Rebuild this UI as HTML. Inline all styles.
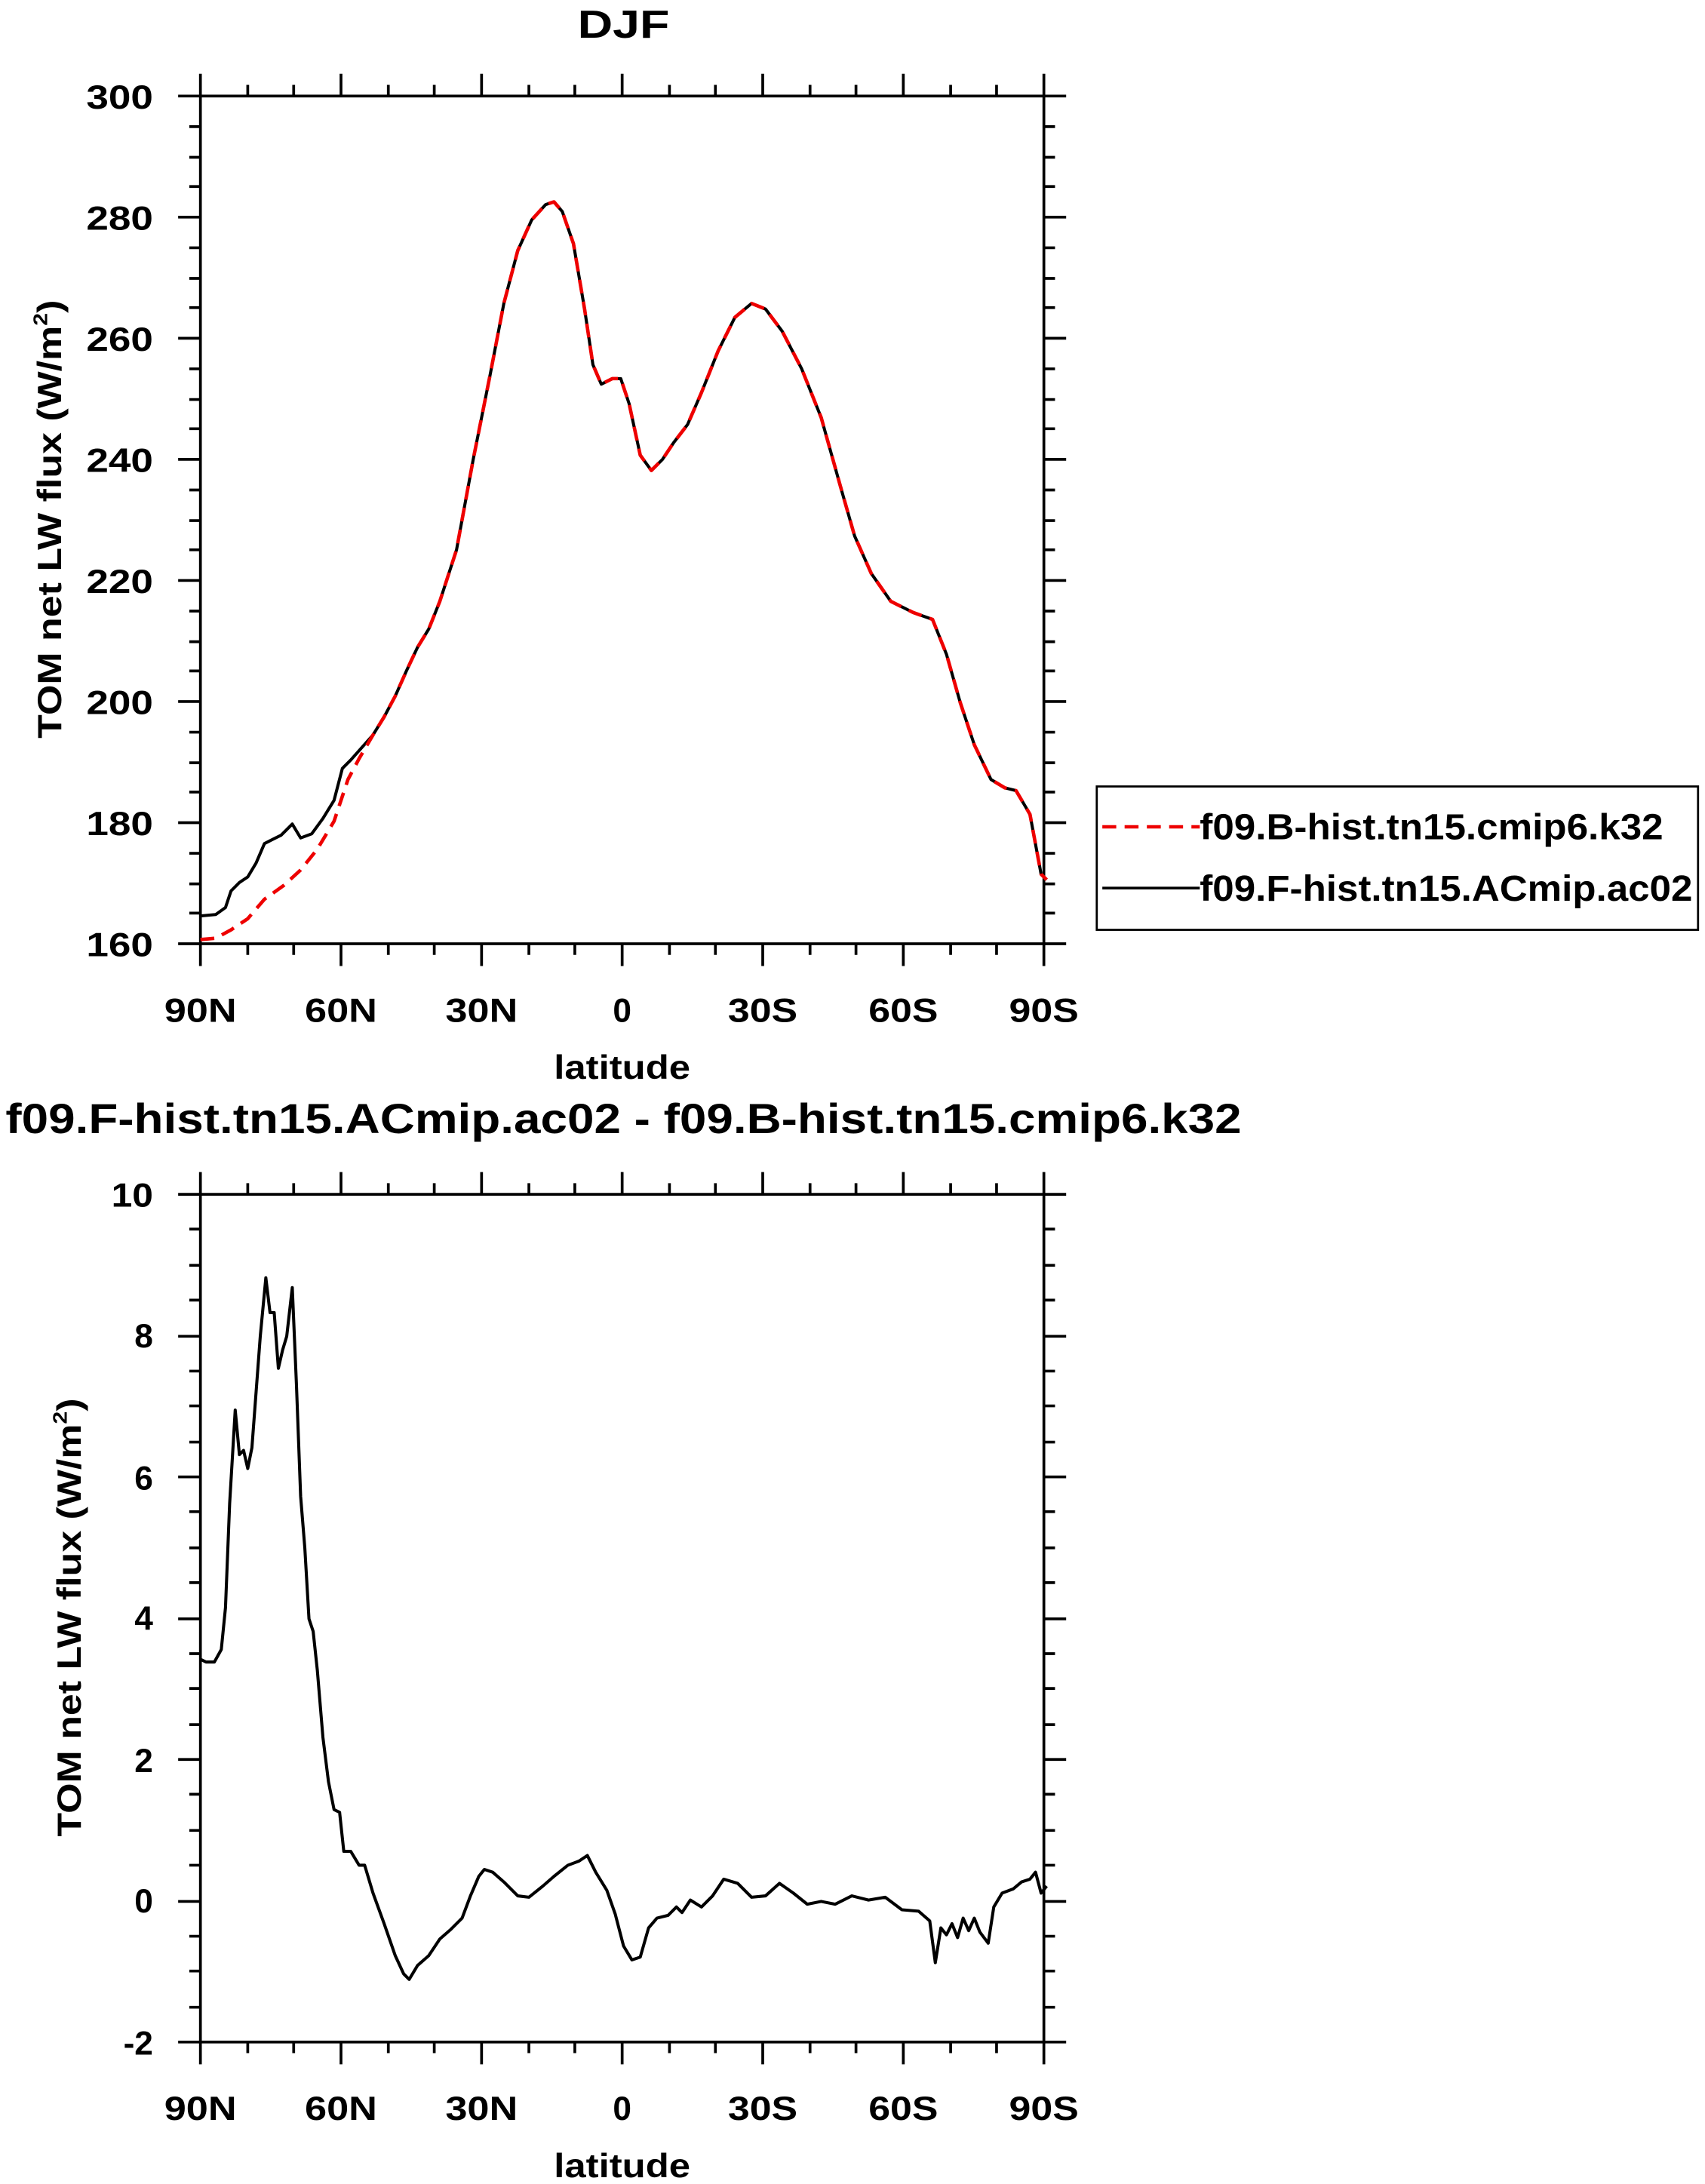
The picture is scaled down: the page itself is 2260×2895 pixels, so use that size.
<!DOCTYPE html>
<html><head><meta charset="utf-8"><style>
html,body{margin:0;padding:0;background:#fff;}
svg{display:block;}
text{font-family:"Liberation Sans",sans-serif;font-weight:bold;fill:#000;}
</style></head><body>
<svg width="2260" height="2895" viewBox="0 0 1225 1569" preserveAspectRatio="none" xmlns="http://www.w3.org/2000/svg">
<rect width="1225" height="1569" fill="#fff"/>
<!-- TOP PLOT -->
<text x="448" y="27" font-size="28" text-anchor="middle" textLength="66" lengthAdjust="spacingAndGlyphs">DJF</text>
<g stroke="#000" stroke-width="2" fill="none">
<rect x="144" y="69" width="606" height="609"/>
<path id="xt" d="M144,678v16M245,678v16M346,678v16M447,678v16M548,678v16M649,678v16M750,678v16
M144,69v-16M245,69v-16M346,69v-16M447,69v-16M548,69v-16M649,69v-16M750,69v-16
M178,678v8M211,678v8M279,678v8M312,678v8M380,678v8M413,678v8M481,678v8M514,678v8M582,678v8M615,678v8M683,678v8M716,678v8
M178,69v-8M211,69v-8M279,69v-8M312,69v-8M380,69v-8M413,69v-8M481,69v-8M514,69v-8M582,69v-8M615,69v-8M683,69v-8M716,69v-8"/>
<path d="M144,69h-16M144,156h-16M144,243h-16M144,330h-16M144,417h-16M144,504h-16M144,591h-16M144,678h-16
M750,69h16M750,156h16M750,243h16M750,330h16M750,417h16M750,504h16M750,591h16M750,678h16
M144,91h-8M144,113h-8M144,134h-8M144,178h-8M144,200h-8M144,221h-8M144,265h-8M144,287h-8M144,308h-8M144,352h-8M144,374h-8M144,395h-8M144,439h-8M144,461h-8M144,482h-8M144,526h-8M144,548h-8M144,569h-8M144,613h-8M144,635h-8M144,656h-8
M750,91h8M750,113h8M750,134h8M750,178h8M750,200h8M750,221h8M750,265h8M750,287h8M750,308h8M750,352h8M750,374h8M750,395h8M750,439h8M750,461h8M750,482h8M750,526h8M750,548h8M750,569h8M750,613h8M750,635h8M750,656h8"/>
</g>
<g font-size="24" text-anchor="end">
<text x="110" y="78" textLength="48" lengthAdjust="spacingAndGlyphs">300</text>
<text x="110" y="165" textLength="48" lengthAdjust="spacingAndGlyphs">280</text>
<text x="110" y="252" textLength="48" lengthAdjust="spacingAndGlyphs">260</text>
<text x="110" y="339" textLength="48" lengthAdjust="spacingAndGlyphs">240</text>
<text x="110" y="426" textLength="48" lengthAdjust="spacingAndGlyphs">220</text>
<text x="110" y="513" textLength="48" lengthAdjust="spacingAndGlyphs">200</text>
<text x="110" y="600" textLength="48" lengthAdjust="spacingAndGlyphs">180</text>
<text x="110" y="687" textLength="48" lengthAdjust="spacingAndGlyphs">160</text>
</g>
<g font-size="24" text-anchor="middle">
<text x="144" y="734" textLength="52" lengthAdjust="spacingAndGlyphs">90N</text>
<text x="245" y="734" textLength="52" lengthAdjust="spacingAndGlyphs">60N</text>
<text x="346" y="734" textLength="52" lengthAdjust="spacingAndGlyphs">30N</text>
<text x="447" y="734">0</text>
<text x="548" y="734" textLength="50" lengthAdjust="spacingAndGlyphs">30S</text>
<text x="649" y="734" textLength="50" lengthAdjust="spacingAndGlyphs">60S</text>
<text x="750" y="734" textLength="50" lengthAdjust="spacingAndGlyphs">90S</text>
<text x="447" y="775" textLength="98" lengthAdjust="spacingAndGlyphs">latitude</text>
</g>
<text transform="translate(44,373) rotate(-90)" font-size="24" text-anchor="middle" textLength="315" lengthAdjust="spacingAndGlyphs">TOM net LW flux (W/m<tspan font-size="14" dy="-10">2</tspan><tspan dy="10">)</tspan></text>
<path fill="none" stroke="#000" stroke-width="2.2" stroke-linejoin="round" d="M144,658L155,657L162,652L166,640L172,634L178,630L184,620L190,606L196,603L202,600L210,592L216,602L224,599L232,588L240,575L246,552L252,546L260,537L268,528L276,515L284,500L292,482L300,465L308,452L316,432L328,395L340,330L352,270L362,218L372,180L382,158L392,147L398,145L404,152L412,175L420,222L426,262L432,276L440,272L446,272L452,290L460,327L468,338L476,330L484,318L494,305L504,282L516,252L528,228L540,218L550,222L562,238L576,265L590,300L604,350L614,385L626,412L640,432L656,440L670,445L680,470L690,505L700,535L712,560L722,566L730,568L740,585L748,628L752,632"/>
<path fill="none" stroke="#e00" stroke-width="2.5" stroke-linejoin="round" stroke-dasharray="10,6" d="M144,675L155,674L166,668L178,660L190,646L204,636L216,625L228,610L240,590L250,560L258,545L268,528L276,515L284,500L292,482L300,465L308,452L316,432L328,395L340,330L352,270L362,218L372,180L382,158L392,147L398,145L404,152L412,175L420,222L426,262L432,276L440,272L446,272L452,290L460,327L468,338L476,330L484,318L494,305L504,282L516,252L528,228L540,218L550,222L562,238L576,265L590,300L604,350L614,385L626,412L640,432L656,440L670,445L680,470L690,505L700,535L712,560L722,566L730,568L740,585L748,628L752,632"/>
<!-- legend -->
<rect x="788" y="565" width="432" height="103" fill="none" stroke="#000" stroke-width="1.5"/>
<line x1="792" y1="594" x2="862" y2="594" stroke="#e00" stroke-width="2.5" stroke-dasharray="10,6"/>
<line x1="792" y1="638" x2="862" y2="638" stroke="#000" stroke-width="2"/>
<text x="862" y="603" font-size="26" textLength="333" lengthAdjust="spacingAndGlyphs">f09.B-hist.tn15.cmip6.k32</text>
<text x="862" y="647" font-size="26" textLength="354" lengthAdjust="spacingAndGlyphs">f09.F-hist.tn15.ACmip.ac02</text>
<!-- BOTTOM PLOT -->
<text x="448" y="814" font-size="30" text-anchor="middle" textLength="888" lengthAdjust="spacingAndGlyphs">f09.F-hist.tn15.ACmip.ac02 - f09.B-hist.tn15.cmip6.k32</text>
<g stroke="#000" stroke-width="2" fill="none">
<rect x="144" y="858" width="606" height="609"/>
<use href="#xt" transform="translate(0,789)"/>
</g>
<g font-size="24" text-anchor="end">
<text x="110" y="867" textLength="30" lengthAdjust="spacingAndGlyphs">10</text>
<text x="110" y="968">8</text>
<text x="110" y="1070">6</text>
<text x="110" y="1171">4</text>
<text x="110" y="1273">2</text>
<text x="110" y="1374">0</text>
<text x="110" y="1476">-2</text>
</g>
<g font-size="24" text-anchor="middle">
<text x="144" y="1523" textLength="52" lengthAdjust="spacingAndGlyphs">90N</text>
<text x="245" y="1523" textLength="52" lengthAdjust="spacingAndGlyphs">60N</text>
<text x="346" y="1523" textLength="52" lengthAdjust="spacingAndGlyphs">30N</text>
<text x="447" y="1523">0</text>
<text x="548" y="1523" textLength="50" lengthAdjust="spacingAndGlyphs">30S</text>
<text x="649" y="1523" textLength="50" lengthAdjust="spacingAndGlyphs">60S</text>
<text x="750" y="1523" textLength="50" lengthAdjust="spacingAndGlyphs">90S</text>
<text x="447" y="1564" textLength="98" lengthAdjust="spacingAndGlyphs">latitude</text>
</g>
<text transform="translate(58,1162) rotate(-90)" font-size="24" text-anchor="middle" textLength="315" lengthAdjust="spacingAndGlyphs">TOM net LW flux (W/m<tspan font-size="14" dy="-10">2</tspan><tspan dy="10">)</tspan></text>
<g stroke="#000" stroke-width="2" fill="none" stroke-linejoin="round">
<path d="M144,858h-16M144,960h-16M144,1061h-16M144,1163h-16M144,1264h-16M144,1366h-16M144,1467h-16
M750,858h16M750,960h16M750,1061h16M750,1163h16M750,1264h16M750,1366h16M750,1467h16
M144,883h-8M144,909h-8M144,934h-8M144,985h-8M144,1010h-8M144,1036h-8M144,1086h-8M144,1112h-8M144,1137h-8M144,1188h-8M144,1213h-8M144,1239h-8M144,1289h-8M144,1315h-8M144,1340h-8M144,1391h-8M144,1416h-8M144,1442h-8
M750,883h8M750,909h8M750,934h8M750,985h8M750,1010h8M750,1036h8M750,1086h8M750,1112h8M750,1137h8M750,1188h8M750,1213h8M750,1239h8M750,1289h8M750,1315h8M750,1340h8M750,1391h8M750,1416h8M750,1442h8"/>
<path stroke-width="2.2" d="M144,1192L148,1194L154,1194L159,1185L162,1155L165,1080L169,1013L172,1045L175,1042L178,1055L181,1040L184,1000L187,960L191,918L194,943L197,943L200,983L203,970L206,960L210,925L213,995L216,1075L219,1112L222,1163L225,1172L228,1200L232,1248L236,1280L240,1300L244,1302L247,1330L252,1330L258,1340L262,1340L268,1360L276,1382L284,1405L290,1418L294,1422L300,1412L308,1405L316,1393L324,1386L332,1378L338,1362L344,1348L348,1343L354,1345L362,1352L372,1362L380,1363L390,1355L398,1348L408,1340L416,1337L422,1333L428,1345L436,1358L442,1375L448,1398L454,1408L460,1406L466,1385L472,1378L480,1376L486,1370L490,1374L496,1365L504,1370L512,1362L520,1350L530,1353L540,1363L550,1362L560,1353L570,1360L580,1368L590,1366L600,1368L612,1362L624,1365L636,1363L648,1372L660,1373L668,1380L672,1410L676,1385L680,1390L684,1382L688,1392L692,1378L696,1387L700,1378L704,1388L710,1396L714,1370L720,1360L728,1357L734,1352L740,1350L744,1345L748,1360L752,1355"/>
</g>
</svg>
</body></html>
